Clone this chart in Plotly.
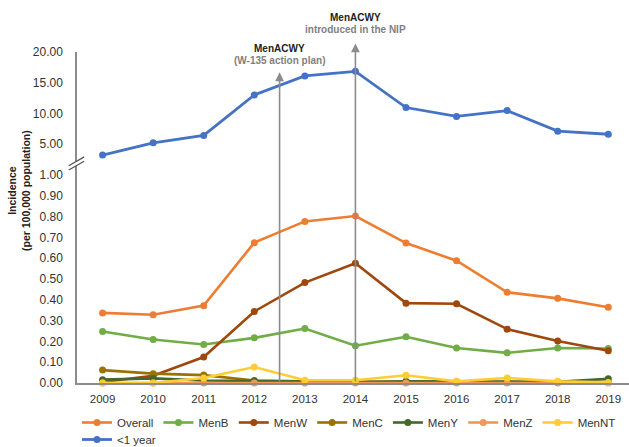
import plotly.graph_objects as go

years = [2009, 2010, 2011, 2012, 2013, 2014, 2015, 2016, 2017, 2018, 2019]

# Incidence per 100,000 population
overall = [0.337, 0.328, 0.372, 0.675, 0.777, 0.803, 0.673, 0.588, 0.436, 0.407, 0.364]
men_b = [0.248, 0.209, 0.185, 0.217, 0.262, 0.179, 0.222, 0.168, 0.145, 0.168, 0.166]
men_w = [0.005, 0.035, 0.125, 0.344, 0.483, 0.576, 0.384, 0.381, 0.259, 0.202, 0.155]
men_c = [0.062, 0.045, 0.038, 0.012, 0.008, 0.005, 0.005, 0.005, 0.003, 0.003, 0.005]
men_y = [0.016, 0.022, 0.012, 0.010, 0.008, 0.005, 0.008, 0.006, 0.007, 0.006, 0.020]
men_z = [0.000, 0.000, 0.000, 0.000, 0.000, 0.000, 0.000, 0.000, 0.000, 0.000, 0.000]
men_nt = [0.000, 0.000, 0.024, 0.077, 0.013, 0.013, 0.037, 0.008, 0.024, 0.008, 0.003]
under_1 = [3.2, 5.2, 6.4, 13.0, 16.1, 16.85, 10.95, 9.5, 10.45, 7.1, 6.6]

lower_series = [
    ("Overall", overall, "#ED7D31"),
    ("MenB", men_b, "#70AD47"),
    ("MenW", men_w, "#9E480E"),
    ("MenC", men_c, "#997300"),
    ("MenY", men_y, "#43682B"),
    ("MenZ", men_z, "#F1975A"),
    ("MenNT", men_nt, "#FFCD33"),
]

lower_ticks = [0.0, 0.1, 0.2, 0.3, 0.4, 0.5, 0.6, 0.7, 0.8, 0.9, 1.0]
upper_ticks = [5, 10, 15, 20]

FONT = "Liberation Sans, Arial, sans-serif"
TXT = "#333333"
AXIS = "#8c8c8c"

fig = go.Figure()
for name, vals, col in lower_series:
    fig.add_trace(go.Scatter(
        x=years, y=vals, name=name, mode="lines+markers",
        line=dict(color=col, width=2.6),
        marker=dict(color=col, size=7),
        yaxis="y", cliponaxis=False, legend="legend",
    ))
fig.add_trace(go.Scatter(
    x=years, y=under_1, name="<1 year", mode="lines+markers",
    line=dict(color="#4472C4", width=2.8),
    marker=dict(color="#4472C4", size=7),
    yaxis="y2", cliponaxis=False, legend="legend2",
))

legend_common = dict(
    orientation="h", xanchor="left", yanchor="top",
    xref="paper", yref="container",
    font=dict(size=11.5, color=TXT), itemwidth=30,
    bgcolor="rgba(0,0,0,0)",
)

fig.update_layout(
    width=629, height=447,
    margin=dict(l=77, r=0, t=52, b=64, autoexpand=False),
    paper_bgcolor="white", plot_bgcolor="white",
    font=dict(family=FONT, color=TXT, size=12),
    showlegend=True,
    legend=dict(x=0.0, y=1 - 408.0 / 447, **legend_common),
    legend2=dict(x=0.0, y=1 - 425.0 / 447, **legend_common),
    xaxis=dict(
        range=[2008.494, 2019.41], tickvals=years, ticktext=[str(y) for y in years],
        showgrid=False, zeroline=False, showline=True, linecolor=AXIS, linewidth=1.5,
        ticks="", tickfont=dict(size=11.5, color=TXT), ticklabelstandoff=4,
    ),
    yaxis=dict(
        domain=[0, 0.66], range=[0, 1.0505], tickvals=lower_ticks,
        ticktext=[f"{v:.2f}" for v in lower_ticks],
        showgrid=False, zeroline=False, showline=True, linecolor=AXIS, linewidth=1.5,
        ticks="", tickfont=dict(size=12, color=TXT), ticklabelstandoff=10,
    ),
    yaxis2=dict(
        domain=[0.66, 1.0], range=[1.66, 20], tickvals=upper_ticks,
        ticktext=[f"{v:.2f}" for v in upper_ticks], anchor="x",
        showgrid=False, zeroline=False, showline=True, linecolor=AXIS, linewidth=1.5,
        ticks="", tickfont=dict(size=12, color=TXT), ticklabelstandoff=10,
    ),
)

# Axis break marks between the two y scales
fig.add_shape(type="path", xref="paper", yref="paper",
              path="M -0.0150,0.6435 L 0.0130,0.6700 L 0.0130,0.6830 L -0.0150,0.6565 Z",
              fillcolor="white", line=dict(width=0), layer="above")
for dy in (0.0, 0.0130):
    fig.add_shape(type="line", xref="paper", yref="paper",
                  x0=-0.0150, y0=0.6435 + dy, x1=0.0130, y1=0.6700 + dy,
                  line=dict(color="#555555", width=1.3), layer="above")

# Vaccination milestones
arrow = dict(showarrow=True, arrowhead=2, arrowsize=1.1, arrowwidth=1.6,
             arrowcolor="#8c8c8c", axref="x", ayref="y", xref="x", yref="y",
             text="", standoff=0, startstandoff=0)
fig.add_annotation(x=2012.5, y=1.4937, ax=2012.5, ay=0, **arrow)
fig.add_annotation(x=2014, y=1.633, ax=2014, ay=0, **arrow)

label = dict(xref="x", yref="paper", showarrow=False, xanchor="center", yanchor="middle")
fig.add_annotation(x=2012.5, y=(383 - 48) / 331, text="<b>MenACWY</b>",
                   font=dict(size=10, color="#222222"), **label)
fig.add_annotation(x=2012.5, y=(383 - 60) / 331, text="<b>(W-135 action plan)</b>",
                   font=dict(size=10, color="#7f7f7f"), **label)
fig.add_annotation(x=2014, y=(383 - 17) / 331, text="<b>MenACWY</b>",
                   font=dict(size=10, color="#222222"), **label)
fig.add_annotation(x=2014, y=(383 - 29) / 331, text="<b>introduced in the NIP</b>",
                   font=dict(size=10, color="#7f7f7f"), **label)

# Y axis title
fig.add_annotation(xref="paper", yref="paper", x=(19 - 77) / 552, y=(383 - 191) / 331,
                   text="<b>Incidence</b><br><b>(per 100,000 population)</b>",
                   textangle=-90, showarrow=False, xanchor="center", yanchor="middle",
                   font=dict(size=10.5, color="#222222"))

fig.write_html("out.html")
